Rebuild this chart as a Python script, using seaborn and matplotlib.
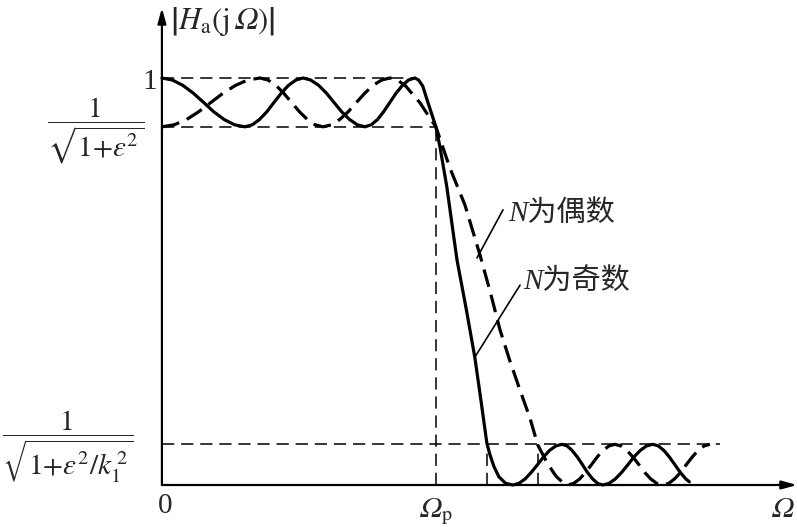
import pandas as pd
import matplotlib
matplotlib.use("Agg")
import matplotlib.pyplot as plt
import seaborn as sns

# ripple levels (normalised magnitude) and band edges (normalised to Omega_p)
pass_hi = 1.0
pass_lo = 0.88      # 1/sqrt(1+eps^2)
stop_lvl = 0.10     # 1/sqrt(1+eps^2/k1^2)
omega_p = 1.0
omega_s_odd = 1.186
omega_s_even = 1.372

# N odd (solid)
odd_x = [0.0, 0.038, 0.076, 0.114, 0.152, 0.189, 0.227, 0.265, 0.303,
         0.330, 0.356, 0.383, 0.409, 0.436, 0.462, 0.489, 0.515,
         0.543, 0.572, 0.600, 0.628, 0.656, 0.685, 0.713, 0.741,
         0.764, 0.787, 0.809, 0.832, 0.855, 0.878, 0.900, 0.923,
         0.937, 0.952, 0.967, 0.983, 1.0, 1.015, 1.04, 1.06, 1.077,
         1.11, 1.142, 1.165, 1.186, 1.197, 1.212, 1.230, 1.255, 1.281,
         1.303, 1.326, 1.348, 1.371, 1.393, 1.415, 1.438, 1.460,
         1.479, 1.497, 1.516, 1.535, 1.553, 1.572, 1.590, 1.609,
         1.632, 1.655, 1.678, 1.701, 1.723, 1.746, 1.769, 1.792,
         1.812, 1.832, 1.852, 1.872, 1.892, 1.912, 1.925]
odd_y = [1.0, 0.995, 0.982, 0.963, 0.94, 0.917, 0.898, 0.885, 0.88,
         0.885, 0.898, 0.917, 0.94, 0.963, 0.982, 0.995, 1.0,
         0.995, 0.982, 0.963, 0.94, 0.917, 0.898, 0.885, 0.88,
         0.885, 0.898, 0.917, 0.94, 0.963, 0.982, 0.995, 1.0,
         0.995, 0.98, 0.948, 0.915, 0.88, 0.83, 0.732, 0.635, 0.553,
         0.435, 0.314, 0.205, 0.103, 0.075, 0.045, 0.02, 0.004, 0.0,
         0.004, 0.015, 0.031, 0.05, 0.069, 0.085, 0.096, 0.1,
         0.096, 0.085, 0.069, 0.05, 0.031, 0.015, 0.004, 0.0,
         0.004, 0.015, 0.031, 0.05, 0.069, 0.085, 0.096, 0.1,
         0.096, 0.085, 0.069, 0.05, 0.031, 0.015, 0.008]

# N even (dashed)
even_x = [0.0, 0.045, 0.090, 0.134, 0.179, 0.224, 0.269, 0.313, 0.358,
          0.387, 0.416, 0.444, 0.473, 0.502, 0.531, 0.559, 0.588,
          0.619, 0.649, 0.680, 0.710, 0.741, 0.771, 0.802, 0.832,
          0.86, 0.89, 0.915, 0.942, 0.97, 1.0, 1.051, 1.106, 1.161,
          1.2, 1.234, 1.27, 1.307, 1.343, 1.372, 1.401, 1.42, 1.438,
          1.46, 1.482, 1.503, 1.525, 1.546, 1.568, 1.589, 1.610, 1.632,
          1.653, 1.675, 1.697, 1.719, 1.741, 1.762, 1.784, 1.806, 1.828,
          1.850, 1.871, 1.893, 1.914, 1.936, 1.957, 1.979, 2.0]
even_y = [0.88, 0.885, 0.898, 0.917, 0.94, 0.963, 0.982, 0.995, 1.0,
          0.995, 0.982, 0.963, 0.94, 0.917, 0.898, 0.885, 0.88,
          0.885, 0.898, 0.917, 0.94, 0.963, 0.982, 0.995, 1.0,
          0.995, 0.98, 0.96, 0.939, 0.91, 0.88, 0.779, 0.688, 0.565,
          0.47, 0.381, 0.305, 0.233, 0.165, 0.098, 0.061, 0.04, 0.022,
          0.008, 0.0, 0.004, 0.015, 0.031, 0.05, 0.069, 0.085, 0.096,
          0.1, 0.096, 0.085, 0.069, 0.05, 0.031, 0.015, 0.004, 0.0,
          0.004, 0.015, 0.031, 0.05, 0.069, 0.085, 0.096, 0.1]

odd_df = pd.DataFrame({"omega": odd_x, "mag": odd_y})
even_df = pd.DataFrame({"omega": even_x, "mag": even_y})

sns.set_style("white")
plt.rcParams["font.family"] = ["Liberation Serif", "Noto Sans CJK SC"]
plt.rcParams["mathtext.fontset"] = "stix"

fig = plt.figure(figsize=(7.97, 5.27), dpi=100)
ax = fig.add_axes([0, 0, 1, 1])

# guide lines
guide = dict(color="black", lw=1.1, ls=(0, (8, 4.5)))
ax.plot([0, 0.923], [pass_hi, pass_hi], **guide)
ax.plot([0, omega_p], [pass_lo, pass_lo], **guide)
ax.plot([0, 2.036], [stop_lvl, stop_lvl], **guide)
ax.plot([omega_p, omega_p], [0, pass_lo], **guide)
ax.plot([omega_s_odd, omega_s_odd], [0, stop_lvl], **guide)
ax.plot([omega_s_even, omega_s_even], [0, stop_lvl], **guide)

# response curves
sns.lineplot(data=odd_df, x="omega", y="mag", ax=ax, color="black",
             lw=2.3, sort=False)
sns.lineplot(data=even_df, x="omega", y="mag", ax=ax, color="black",
             lw=2.3, sort=False, ls=(0, (5.6, 2.6)))
ax.set_xlim(-0.591, 2.318)
ax.set_ylim(-0.1032, 1.1916)
ax.axis("off")

# axes with arrows
arrow = dict(arrowstyle="-|>,head_length=0.9,head_width=0.25", color="black",
             lw=1.6, shrinkA=0, shrinkB=0)
ax.annotate("", xy=(0, 1.172), xytext=(0, 0), arrowprops=arrow)
ax.annotate("", xy=(2.318, 0), xytext=(0, 0), arrowprops=arrow)

fs = 21
ax.text(0.03, 1.138, r"$\left|H_{\mathrm{a}}(\mathrm{j}\,𝛺)\right|$",
        fontsize=22, ha="left", va="center")
ax.text(-0.044, 0.99, "1", fontsize=fs, ha="center", va="center")
ax.text(-0.241, 0.87, r"$\dfrac{1}{\sqrt{1{+}\varepsilon^2}}$",
        fontsize=fs, ha="center", va="center")
ax.text(-0.345, 0.093, r"$\dfrac{1}{\sqrt{1{+}\varepsilon^2/k_1^{\,2}}}$",
        fontsize=fs, ha="center", va="center")
ax.text(0.011, -0.052, "0", fontsize=fs, ha="center", va="center")
ax.text(1.0, -0.066, r"$𝛺_{\mathrm{p}}$", fontsize=fs,
        ha="center", va="center")
ax.text(2.266, -0.061, r"$𝛺$", fontsize=fs, ha="center", va="center")

# labels with leader lines
lab = dict(fontsize=fs, style="italic", ha="left", va="center")
ax.text(1.263, 0.668, "N为偶数", **lab)
ax.plot([1.245, 1.150], [0.676, 0.558], color="black", lw=1.2)
ax.text(1.318, 0.499, "N为奇数", **lab)
ax.plot([1.307, 1.142], [0.491, 0.314], color="black", lw=1.2)

fig.savefig("out.png", dpi=100)
